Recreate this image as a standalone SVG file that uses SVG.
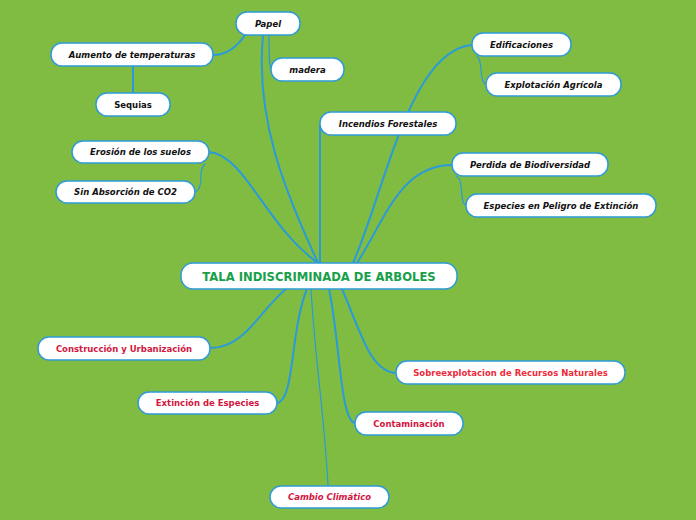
<svg xmlns="http://www.w3.org/2000/svg" width="696" height="520" viewBox="0 0 696 520">
<style>
.bg{fill:#80BC42}
.n rect{fill:#fff;stroke:#2E9AD6;stroke-width:1.5}
.c path{fill:none;stroke:#2A9BDA;stroke-width:2;stroke-linecap:round}
.c path.t{stroke-width:1.2}
text{font-family:"DejaVu Sans",Verdana,sans-serif;font-weight:bold;text-anchor:middle;dominant-baseline:central;font-size:8.5px}
.k{fill:#111;font-style:italic}
.s{fill:#111}
.r{fill:#D2163F}
.r2{fill:#EC2B3B}
.ri{fill:#D2163F;font-style:italic}
.m{fill:#17A04A;font-size:11.6px}
</style>
<rect class="bg" width="696" height="520"/>
<g class="c" id="connectors">
<path d="M263 35 C255 120 285 190 318 263"/>
<path class="t" d="M269 35 C269 55 269 70 272 70"/>
<path d="M245 35 C235 50 225 55 213 55"/>
<path d="M133 66 L133 93"/>
<path d="M209 152 C245 155 265 225 318 263"/>
<path class="t" d="M205 164 C197 170 205 188 195 192"/>
<path d="M320 263 L320 124"/>
<path d="M353 263 C385 190 410 50 472 45"/>
<path class="t" d="M477 56 C484 62 478 82 487 85"/>
<path d="M357 263 C385 220 400 165 452 165"/>
<path class="t" d="M456 176 C465 180 458 203 467 206"/>
<path d="M286 289 C260 310 245 348 210 348"/>
<path d="M307 289 C290 330 295 400 277 403"/>
<path class="t" d="M311 289 C315 360 325 420 328 486"/>
<path d="M329 289 C340 340 340 420 355 423"/>
<path d="M342 289 C360 330 370 372 396 373"/>
</g>
<g class="n" id="central"><rect x="181" y="263" width="276" height="26" rx="12"/><text class="m" x="319" y="276.5">TALA INDISCRIMINADA DE ARBOLES</text></g>
<g class="n" id="papel"><rect x="236" y="12" width="64" height="23" rx="11"/><text class="k" x="268" y="23.5">Papel</text></g>
<g class="n" id="madera"><rect x="271" y="58" width="73" height="23" rx="11"/><text class="k" x="307.5" y="69.5">madera</text></g>
<g class="n" id="aumento"><rect x="51" y="43" width="162" height="23" rx="11"/><text class="k" x="132" y="54.5">Aumento de temperaturas</text></g>
<g class="n" id="sequias"><rect x="96" y="93" width="74" height="23" rx="11"/><text class="s" x="133" y="104.5">Sequias</text></g>
<g class="n" id="incendios"><rect x="320" y="112" width="136" height="23" rx="11"/><text class="k" x="388" y="123.5">Incendios Forestales</text></g>
<g class="n" id="edificaciones"><rect x="472" y="33" width="99" height="23" rx="11"/><text class="k" x="521.5" y="44.5">Edificaciones</text></g>
<g class="n" id="explotacion"><rect x="486" y="73" width="135" height="23" rx="11"/><text class="k" x="553.5" y="84.5">Explotación Agrícola</text></g>
<g class="n" id="perdida"><rect x="452" y="153" width="156" height="23" rx="11"/><text class="k" x="530" y="164.5">Perdida de Biodiversidad</text></g>
<g class="n" id="especies"><rect x="466" y="194" width="190" height="23" rx="11"/><text class="k" x="561" y="205.5">Especies en Peligro de Extinción</text></g>
<g class="n" id="erosion"><rect x="72" y="141" width="137" height="22" rx="11"/><text class="k" x="140.5" y="152">Erosión de los suelos</text></g>
<g class="n" id="sinabsorcion"><rect x="56" y="181" width="139" height="22" rx="11"/><text class="k" x="125.5" y="192">Sin Absorción de CO2</text></g>
<g class="n" id="construccion"><rect x="38" y="337" width="172" height="23" rx="11"/><text class="r" x="124" y="348.5">Construcción y Urbanización</text></g>
<g class="n" id="extincion"><rect x="138" y="392" width="139" height="22" rx="11"/><text class="r" x="207.5" y="403">Extinción de Especies</text></g>
<g class="n" id="sobreexplotacion"><rect x="396" y="361" width="229" height="23" rx="11"/><text class="r2" x="510.5" y="372.5">Sobreexplotacion de Recursos Naturales</text></g>
<g class="n" id="contaminacion"><rect x="355" y="412" width="108" height="23" rx="11"/><text class="r" x="409" y="423.5">Contaminación</text></g>
<g class="n" id="cambio"><rect x="270" y="486" width="119" height="22" rx="11"/><text class="ri" x="329.5" y="497">Cambio Climático</text></g>
</svg>
